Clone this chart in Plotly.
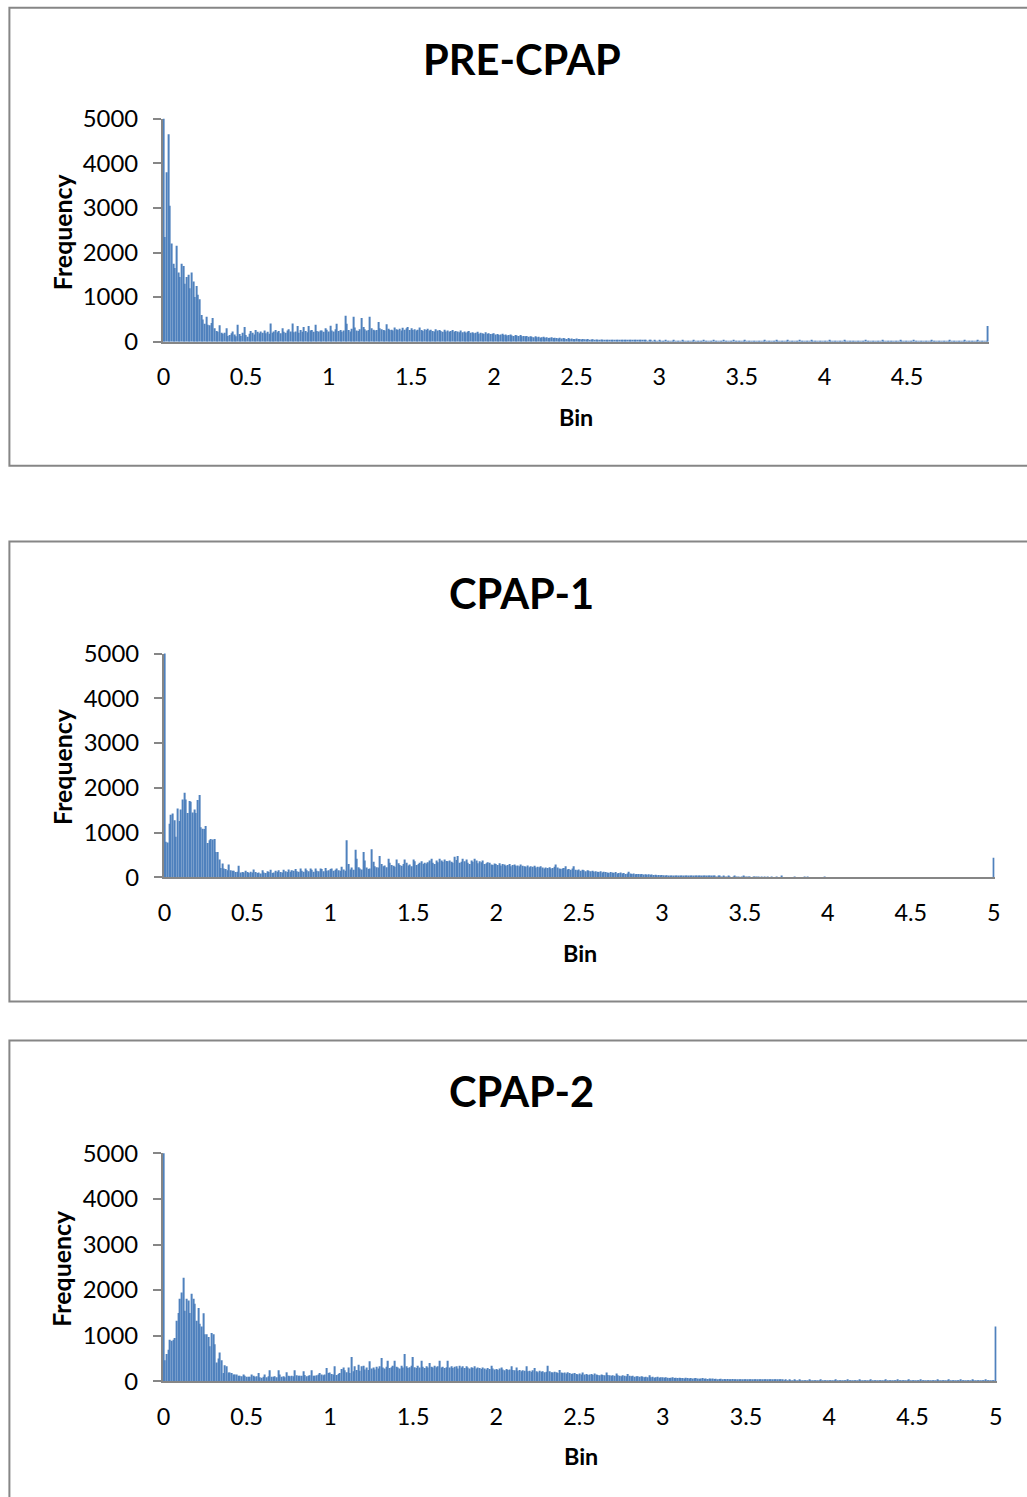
import plotly.graph_objects as go

W, H = 1027, 1497

# ---------------- data (frequency per 0.01-wide bin) ----------------
pre_cpap = [
    5400, 2350, 3800, 4650, 3050, 2200, 1750, 1650, 2150, 1550,
    1450, 1750, 1700, 1300, 1450, 1500, 1200, 1550, 1350, 1000,
    1250, 1050, 950, 600, 500, 400, 560, 380, 370, 420,
    530, 300, 240, 220, 370, 200, 180, 200, 300, 130,
    150, 190, 230, 160, 120, 380, 170, 130, 200, 330,
    150, 110, 180, 240, 200, 160, 260, 220, 190, 230,
    200, 250, 190, 220, 180, 410, 200, 230, 260, 210,
    240, 190, 300, 220, 200, 250, 280, 230, 410, 210,
    230, 350, 200, 260, 220, 330, 240, 210, 350, 250,
    260, 220, 380, 240, 230, 250, 250, 220, 300, 270,
    230, 360, 250, 230, 280, 400, 240, 260, 220, 250,
    580, 400, 260, 230, 290, 560, 320, 250, 240, 280,
    530, 330, 280, 250, 260, 560, 300, 270, 250, 260,
    440, 300, 280, 260, 250, 390, 290, 260, 270, 250,
    320, 280, 260, 290, 250, 310, 270, 300, 330, 260,
    300, 260, 280, 250, 270, 320, 260, 240, 280, 260,
    290, 250, 270, 240, 230, 280, 250, 260, 240, 220,
    270, 230, 250, 220, 240, 260, 220, 240, 230, 210,
    250, 210, 230, 200, 220, 240, 200, 210, 190, 200,
    220, 180, 200, 190, 170, 210, 180, 190, 170, 180,
    190, 160, 170, 150, 160, 180, 150, 160, 140, 150,
    160, 140, 130, 150, 140, 130, 150, 120, 130, 120,
    130, 110, 120, 110, 100, 120, 100, 110, 90, 100,
    110, 90, 100, 80, 90, 100, 80, 90, 80, 70,
    90, 70, 80, 70, 60, 80, 60, 70, 60, 60,
    70, 60, 60, 50, 60, 55, 50, 60, 45, 50,
    55, 45, 50, 40, 45, 50, 40, 45, 35, 40,
    45, 35, 40, 35, 30, 40, 30, 35, 30, 30,
    35, 30, 30, 25, 30, 30, 25, 30, 25, 25,
    30, 25, 25, 20, 25, 25, 20, 25, 20, 20,
    22, 18, 20, 17, 21, 19, 16, 20, 18, 22, 17, 19, 20, 16, 21, 18, 19, 17, 20, 18,
    19, 21, 16, 18, 20, 17, 19, 22, 18, 16, 20, 19, 17, 21, 18, 20, 16, 19, 18, 21,
    17, 20, 18, 19, 16, 21, 18, 17, 20, 19, 18, 16, 21, 19, 17, 20, 18, 19, 16, 20,
    19, 17, 20, 18, 21, 16, 19, 18, 20, 17, 18, 21, 19, 16, 20, 18, 17, 19, 21, 18,
    16, 20, 19, 17, 18, 21, 19, 16, 20, 18, 19, 17, 21, 18, 16, 20, 19, 18, 17, 20,
    18, 19, 16, 21, 17, 20, 18, 19, 17, 16, 20, 18, 21, 19, 17, 18, 20, 16, 19, 18,
    20, 17, 19, 18, 16, 21, 18, 20, 17, 19, 18, 16, 20, 19, 17, 21, 18, 19, 16, 20,
    17, 19, 18, 20, 16, 18, 21, 17, 19, 18, 20, 17, 16, 19, 21, 18, 20, 17, 19, 18,
    19, 16, 20, 18, 17, 21, 19, 18, 16, 20, 18, 19, 17, 20, 16, 19, 21, 18, 17, 19,
    18, 20, 17, 19, 16, 21, 18, 19, 17, 20, 19, 16, 18, 21, 17, 19, 18, 20, 17, 350,
]

cpap_1 = [
    5200, 800, 780, 1200, 1400, 1430, 1280, 910, 1540, 1260,
    1520, 1740, 1890, 1740, 1440, 1710, 1690, 1450, 1520, 1440,
    1730, 1840, 1120, 1090, 1080, 1150, 770, 830, 860, 850,
    860, 570, 570, 400, 210, 310, 200, 190, 160, 290,
    160, 150, 150, 120, 130, 260, 110, 120, 110, 150,
    120, 100, 130, 110, 180, 120, 100, 110, 90, 160,
    110, 100, 140, 120, 170, 100, 110, 150, 130, 160,
    120, 110, 170, 140, 120, 180, 130, 160, 150, 190,
    140, 130, 200, 150, 130, 200, 160, 140, 200, 170,
    130, 200, 150, 140, 200, 190, 140, 210, 150, 160,
    190, 200, 150, 170, 200, 160, 150, 240, 180, 150,
    830, 300, 180, 220, 170, 620, 420, 230, 200, 180,
    570, 380, 220, 190, 200, 630, 350, 250, 230, 220,
    480, 300, 250, 270, 230, 420, 330, 280, 260, 240,
    400, 320, 280, 260, 300, 400, 330, 270, 290, 250,
    400, 360, 280, 300, 330, 360, 300, 330, 310, 340,
    380, 420, 330, 300, 380, 340, 420, 380, 350, 400,
    370, 360, 380, 350, 330, 460, 390, 480, 330, 350,
    420, 360, 400, 330, 300, 380, 350, 420, 380, 320,
    360, 340, 380, 300, 320, 340, 330, 290, 280, 310,
    300, 280, 320, 270, 300, 290, 260, 280, 300, 250,
    280, 290, 260, 270, 250, 290, 260, 250, 240, 270,
    230, 250, 240, 260, 220, 240, 230, 250, 220, 200,
    220, 210, 230, 200, 210, 240, 290, 220, 200, 190,
    200, 210, 250, 180, 190, 170, 200, 250, 170, 160,
    180, 150, 170, 160, 140, 160, 150, 140, 150, 130,
    140, 130, 120, 140, 110, 130, 120, 110, 100, 120,
    110, 100, 120, 90, 100, 110, 90, 100, 80, 90,
    130, 90, 80, 90, 70, 80, 75, 70, 80, 65,
    70, 60, 70, 60, 65, 55, 60, 50, 55, 50,
    55, 50, 45, 50, 45, 40, 45, 40, 45, 40,
    40, 35, 40, 35, 40, 35, 30, 35, 30, 35,
    30, 35, 30, 25, 30, 30, 25, 30, 25, 30,
    25, 30, 25, 20, 25, 25, 20, 25, 20, 20,
    25, 20, 0, 20, 25, 20, 20, 0, 20, 25,
    20, 20, 15, 20, 0, 20, 15, 20, 20, 0,
    20, 0, 15, 0, 20, 0, 15, 0, 0, 20,
    0, 0, 25, 0, 0, 0, 0, 0, 0, 0,
    20, 0, 0, 0, 0, 0, 20, 0, 20, 0,
    0, 0, 0, 0, 0, 0, 0, 0, 20, 0,
    0, 0, 0, 0, 0, 0, 0, 0, 0, 0,
    0, 0, 0, 0, 0, 0, 0, 0, 0, 0,
    0, 0, 0, 0, 0, 0, 0, 0, 0, 0,
    0, 0, 0, 0, 0, 0, 0, 0, 0, 0,
    0, 0, 0, 0, 0, 0, 0, 0, 0, 0,
    0, 0, 0, 0, 0, 0, 0, 0, 0, 0,
    0, 0, 0, 0, 0, 0, 0, 0, 0, 0,
    0, 0, 0, 0, 0, 0, 0, 0, 0, 0,
    0, 0, 0, 0, 0, 0, 0, 0, 0, 0,
    0, 0, 0, 0, 0, 0, 0, 0, 0, 0,
    440,
]

cpap_2 = [
    5300, 460, 600, 690, 910, 890, 910, 950, 1330, 1500,
    1810, 1950, 2270, 1550, 1810, 1770, 1500, 1920, 1810, 1700,
    1330, 1610, 1260, 1200, 1490, 1030, 1030, 970, 770, 1060,
    1030, 810, 410, 500, 630, 460, 180, 350, 330, 190,
    190, 180, 150, 150, 150, 120, 120, 110, 150, 120,
    100, 100, 100, 150, 120, 100, 110, 180, 90, 80,
    100, 150, 90, 110, 240, 100, 100, 110, 90, 240,
    150, 100, 110, 90, 200, 120, 110, 120, 110, 240,
    130, 120, 120, 120, 220, 140, 110, 120, 130, 240,
    120, 120, 130, 150, 180, 150, 130, 150, 290, 180,
    190, 160, 150, 330, 140, 160, 180, 270, 300, 240,
    200, 300, 180, 530, 220, 330, 250, 360, 230, 330,
    340, 260, 300, 250, 440, 280, 300, 260, 320, 280,
    330, 510, 300, 280, 320, 450, 290, 310, 340, 450,
    320, 300, 280, 340, 300, 600, 330, 290, 310, 340,
    530, 310, 290, 340, 300, 450, 320, 290, 330, 300,
    400, 320, 300, 340, 310, 330, 450, 300, 320, 290,
    310, 450, 300, 330, 290, 320, 330, 280, 340, 300,
    330, 290, 330, 300, 280, 310, 290, 330, 280, 300,
    290, 270, 305, 280, 260, 290, 270, 340, 280, 260,
    270, 250, 280, 300, 260, 240, 270, 250, 260, 330,
    250, 240, 300, 230, 250, 220, 240, 230, 330, 220,
    230, 210, 240, 290, 220, 200, 230, 210, 220, 200,
    210, 340, 220, 200, 190, 210, 200, 180, 250, 190,
    180, 190, 170, 200, 180, 160, 170, 180, 160, 150,
    170, 150, 190, 150, 160, 140, 150, 160, 140, 170,
    150, 140, 130, 150, 140, 130, 190, 140, 130, 120,
    130, 120, 170, 130, 120, 110, 130, 120, 110, 160,
    120, 110, 120, 100, 110, 110, 100, 110, 100, 90,
    100, 90, 130, 90, 100, 80, 90, 100, 80, 90,
    90, 80, 90, 80, 70, 80, 90, 70, 80, 70,
    80, 70, 70, 60, 80, 70, 60, 70, 60, 65,
    70, 60, 55, 60, 70, 55, 60, 50, 60, 55,
    60, 50, 55, 45, 50, 55, 45, 50, 40, 50,
    45, 40, 50, 40, 45, 40, 35, 45, 35, 40,
    40, 35, 40, 35, 30, 40, 30, 35, 30, 35,
    30, 35, 30, 25, 30, 30, 25, 30, 25, 25,
    30, 25, 25, 20, 25, 20, 25, 20, 20, 25,
    20, 18, 21, 17, 19, 20, 16, 18, 21, 19, 17, 20, 18, 19, 16, 21, 18, 20, 17, 19,
    18, 20, 17, 19, 21, 16, 18, 20, 19, 17, 18, 21, 16, 19, 20, 18, 17, 19, 21, 18,
    19, 17, 20, 18, 16, 21, 19, 18, 20, 17, 19, 16, 18, 20, 21, 17, 19, 18, 20, 16,
    18, 21, 19, 17, 20, 18, 16, 19, 21, 18, 17, 20, 19, 18, 16, 21, 18, 19, 17, 20,
    19, 18, 20, 16, 18, 21, 17, 19, 20, 18, 16, 19, 21, 18, 17, 20, 19, 18, 16, 21,
    18, 19, 17, 20, 18, 16, 21, 19, 18, 20, 17, 19, 16, 18, 21, 20, 17, 19, 18, 20,
    1200,
]

titles = ["PRE-CPAP", "CPAP-1", "CPAP-2"]
y_tick_vals = [0, 1000, 2000, 3000, 4000, 5000]
x_tick_vals = [0, 0.5, 1, 1.5, 2, 2.5, 3, 3.5, 4, 4.5, 5]
x_tick_text = ["0", "0.5", "1", "1.5", "2", "2.5", "3", "3.5", "4", "4.5", "5"]
x_title = "Bin"
y_title = "Frequency"


def bins(n):
    return [round(i * 0.01, 2) for i in range(n)]


# ---------------- layout geometry (target pixels) ----------------
panels = [
    dict(vals=pre_cpap, first=163.0, last=987.3, y0=341, ytop=118,
         box=(9, 7, 1060, 465), title_y=58, freq=(61, 231), binlab=(575, 416)),
    dict(vals=cpap_1, first=164.0, last=993.0, y0=877, ytop=653,
         box=(9, 541, 1060, 1001), title_y=592, freq=(61, 766), binlab=(579, 953)),
    dict(vals=cpap_2, first=163.0, last=995.0, y0=1381, ytop=1153,
         box=(9, 1040, 1060, 1530), title_y=1091, freq=(61, 1268), binlab=(580, 1456)),
]

BAR = "#4F81BD"
AXIS = "#868686"
FONT = "Lato, Calibri, Carlito, 'Open Sans', sans-serif"

# the captured picture is slightly rescaled/offset relative to the page;
# map target picture pixels back to page pixels
SX, OX = 0.988, 5.6
SY, OY = 0.981, 15.2
FS = 1.0 / ((SX + SY) / 2)


def page_x(b):
    return (b - OX) / SX


def page_y(b):
    return (b - OY) / SY


def px(b):
    return page_x(b) / W


def py(b):
    return 1 - page_y(b) / H


fig = go.Figure()
annotations = []
shapes = []
layout_axes = {}

for i, (p, title) in enumerate(zip(panels, titles)):
    n = len(p["vals"])
    xs = bins(n)
    sfx = "" if i == 0 else str(i + 1)
    span_units = xs[-1] - xs[0]
    per_unit = (p["last"] - p["first"]) / span_units
    left = p["first"] - 0.005 * per_unit
    right = p["last"] + 0.005 * per_unit

    fig.add_trace(go.Bar(
        x=xs, y=p["vals"], marker=dict(color=BAR, line=dict(width=0)),
        xaxis="x" + sfx, yaxis="y" + sfx, showlegend=False, hoverinfo="skip",
    ))

    layout_axes["xaxis" + sfx] = dict(
        domain=[px(left), px(right)], anchor="y" + sfx,
        range=[xs[0] - 0.005, xs[-1] + 0.005],
        tickmode="array", tickvals=x_tick_vals, ticktext=x_tick_text,
        ticks="", showline=True, linecolor=AXIS, linewidth=1.5,
        showgrid=False, zeroline=False, ticklabelstandoff=14,
        tickfont=dict(family=FONT, size=23 * FS, color="#000000"),
        fixedrange=True,
    )
    layout_axes["yaxis" + sfx] = dict(
        domain=[py(p["y0"]), py(p["ytop"])], anchor="x" + sfx,
        range=[0, 5000], tickmode="array", tickvals=y_tick_vals,
        ticks="outside", ticklen=8, tickwidth=1.5, tickcolor=AXIS,
        showline=True, linecolor=AXIS, linewidth=1.5,
        showgrid=False, zeroline=False, ticklabelstandoff=10,
        tickfont=dict(family=FONT, size=23.5 * FS, color="#000000"),
        fixedrange=True,
    )

    x0, y0, x1, y1 = p["box"]
    shapes.append(dict(type="rect", xref="paper", yref="paper",
                       x0=px(x0), x1=px(x1), y0=py(y0), y1=py(y1),
                       line=dict(color=AXIS, width=2), fillcolor="rgba(0,0,0,0)",
                       layer="above"))

    annotations.append(dict(text=title, xref="paper", yref="paper",
                            x=px(521), y=py(p["title_y"]), xanchor="center", yanchor="middle",
                            showarrow=False,
                            font=dict(family=FONT, size=41 * FS, color="#000000", weight=700)))
    annotations.append(dict(text=y_title, xref="paper", yref="paper",
                            x=px(p["freq"][0]), y=py(p["freq"][1]), xanchor="center", yanchor="middle",
                            textangle=-90, showarrow=False,
                            font=dict(family=FONT, size=24.5 * FS, color="#000000", weight=700)))
    annotations.append(dict(text=x_title, xref="paper", yref="paper",
                            x=px(p["binlab"][0]), y=py(p["binlab"][1]), xanchor="center", yanchor="middle",
                            showarrow=False,
                            font=dict(family=FONT, size=23 * FS, color="#000000", weight=700)))

fig.update_layout(
    width=W, height=H, margin=dict(l=0, r=0, t=0, b=0),
    paper_bgcolor="white", plot_bgcolor="white",
    bargap=0.33, showlegend=False,
    annotations=annotations, shapes=shapes,
    **layout_axes,
)

page_fix = (
    "document.documentElement.style.margin='0';"
    "document.documentElement.style.padding='0';"
    "document.documentElement.style.overflow='hidden';"
    "document.body.style.margin='0';"
    "document.body.style.padding='0';"
    "document.body.style.overflow='hidden';"
)

fig.write_html("out.html", config={"displayModeBar": False}, post_script=page_fix)
